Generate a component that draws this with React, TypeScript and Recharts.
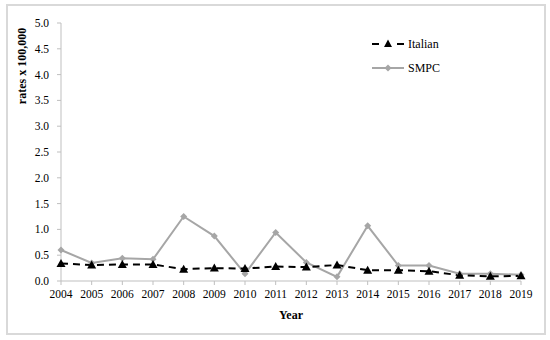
import React from "react";
import { LineChart, Line, XAxis, YAxis, Legend, Label } from "recharts";

const years = ["2004","2005","2006","2007","2008","2009","2010","2011","2012","2013","2014","2015","2016","2017","2018","2019"];
const italian = [0.34,0.31,0.32,0.32,0.23,0.25,0.24,0.28,0.27,0.31,0.21,0.21,0.19,0.11,0.09,0.10];
const smpc = [0.60,0.35,0.44,0.42,1.25,0.87,0.14,0.94,0.36,0.08,1.07,0.30,0.30,0.14,0.14,0.12];
const yTicks = [0,0.5,1,1.5,2,2.5,3,3.5,4,4.5,5];

const data = years.map((y, i) => ({ year: y, Italian: italian[i], SMPC: smpc[i] }));

const FONT = "'Liberation Serif', 'DejaVu Serif', serif";
const AXIS = "#bfbfbf";
const GRAY = "#a6a6a6";

const Triangle = (props: any) => {
  const { cx, cy } = props;
  if (cx == null || cy == null) return null;
  return <path d={`M${cx},${cy - 4.5} L${cx + 4.5},${cy + 3.5} L${cx - 4.5},${cy + 3.5} Z`} fill="#000" />;
};

const Diamond = (props: any) => {
  const { cx, cy } = props;
  if (cx == null || cy == null) return null;
  return <path d={`M${cx},${cy - 3.5} L${cx + 3.5},${cy} L${cx},${cy + 3.5} L${cx - 3.5},${cy} Z`} fill={GRAY} />;
};

const LegendContent = () => (
  <div style={{ fontFamily: FONT, fontSize: 12, color: "#000" }}>
    <div style={{ display: "flex", alignItems: "center", height: 22 }}>
      <svg width={34} height={12} style={{ marginRight: 2 }}>
        <line x1={0} y1={6} x2={7} y2={6} stroke="#000" strokeWidth={2} />
        <path d="M16,1.5 L20,9 L12,9 Z" fill="#000" />
        <line x1={25} y1={6} x2={32} y2={6} stroke="#000" strokeWidth={2} />
      </svg>
      <span>Italian</span>
    </div>
    <div style={{ display: "flex", alignItems: "center", height: 22, marginTop: 2 }}>
      <svg width={34} height={12} style={{ marginRight: 2 }}>
        <line x1={0} y1={6} x2={32} y2={6} stroke={GRAY} strokeWidth={2} />
        <path d="M16,2.5 L19.5,6 L16,9.5 L12.5,6 Z" fill={GRAY} />
      </svg>
      <span>SMPC</span>
    </div>
  </div>
);

const YTitle = (props: any) => {
  return (
    <text
      x={22}
      y={66}
      transform="rotate(-90 22 66)"
      textAnchor="middle"
      dominantBaseline="central"
      fontFamily={FONT}
      fontWeight="bold"
      fontSize={12}
      fill="#000"
    >
      rates x 100,000
    </text>
  );
};

export default function App() {
  return (
    <div style={{ position: "absolute", left: 0, top: 0, width: 550, height: 340, background: "#fff" }}>
      <div
        style={{
          position: "absolute",
          left: 6,
          top: 4,
          width: 536,
          height: 327,
          border: "2px solid #d9d9d9",
        }}
      />
      <div style={{ position: "absolute", left: 0, top: 0 }}>
        <LineChart
          width={550}
          height={340}
          data={data}
          margin={{ top: 23, right: 29, bottom: 29, left: 21 }}
        >
          <XAxis
            dataKey="year"
            stroke={AXIS}
            tickSize={4}
            tickMargin={5}
            tick={{ fill: "#000", fontFamily: FONT, fontSize: 11.5 }}
            tickLine={{ stroke: AXIS }}
            axisLine={{ stroke: AXIS }}
            interval={0}
          >
            <Label
              value="Year"
              position="insideBottom"
              offset={-8}
              style={{ fontFamily: FONT, fontWeight: "bold", fontSize: 12, fill: "#000" }}
            />
          </XAxis>
          <YAxis
            width={40}
            domain={[0, 5]}
            ticks={yTicks}
            interval={0}
            tickFormatter={(v: number) => v.toFixed(1)}
            stroke={AXIS}
            tickSize={4}
            tickMargin={8}
            tick={{ fill: "#000", fontFamily: FONT, fontSize: 11.5 }}
            tickLine={{ stroke: AXIS }}
            axisLine={{ stroke: AXIS }}
          >
            <Label content={<YTitle />} />
          </YAxis>
          <Legend
            content={<LegendContent />}
            layout="vertical"
            align="center"
            verticalAlign="middle"
            wrapperStyle={{ position: "absolute", left: 372, top: 33, width: 120 }}
          />
          <Line
            dataKey="SMPC"
            stroke={GRAY}
            strokeWidth={2}
            dot={<Diamond />}
            activeDot={false}
            isAnimationActive={false}
          />
          <Line
            dataKey="Italian"
            stroke="#000"
            strokeWidth={2}
            strokeDasharray="7 5"
            dot={<Triangle />}
            activeDot={false}
            isAnimationActive={false}
          />
        </LineChart>
      </div>
    </div>
  );
}
